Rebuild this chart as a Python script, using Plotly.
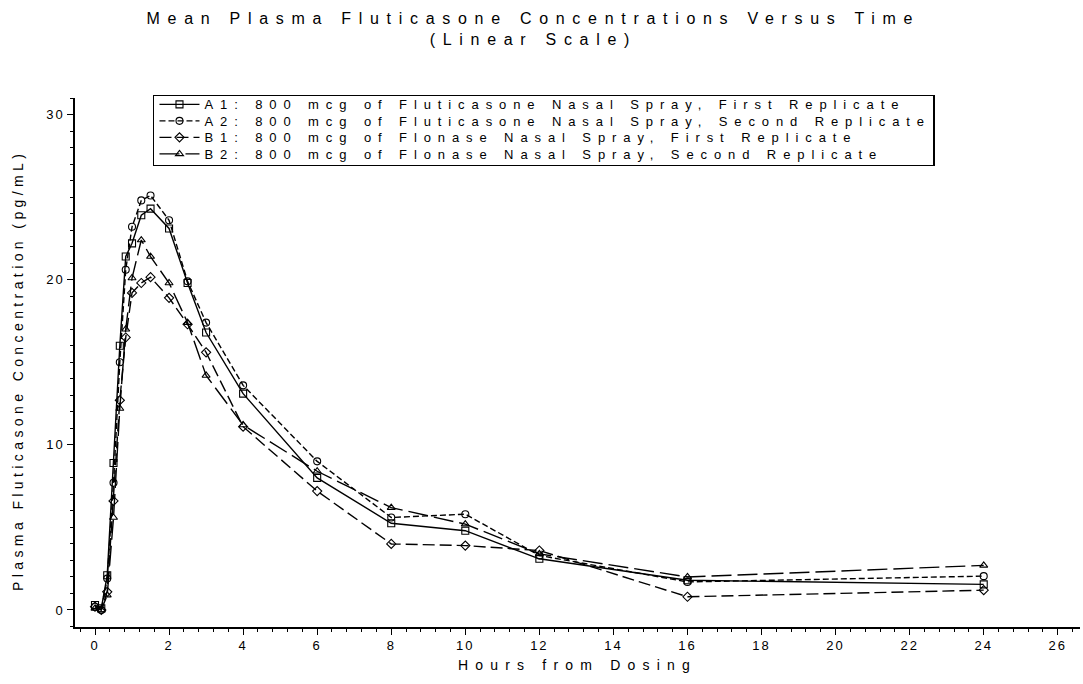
import plotly.graph_objects as go

# ---- data ----
hours = [0, 0.17, 0.33, 0.5, 0.67, 0.83, 1, 1.25, 1.5, 2, 2.5, 3, 4, 6, 8, 10, 12, 16, 24]
a1 = [0.3, 0.1, 2.1, 8.9, 16.0, 21.4, 22.2, 23.9, 24.3, 23.1, 19.8, 16.8, 13.1, 8.0, 5.25, 4.8, 3.1, 1.8, 1.55]
a2 = [0.2, 0.0, 1.9, 7.7, 15.0, 20.6, 23.2, 24.8, 25.1, 23.6, 19.9, 17.4, 13.6, 9.0, 5.6, 5.8, 3.3, 1.7, 2.05]
b1 = [0.2, 0.0, 1.1, 6.6, 12.7, 16.5, 19.2, 19.8, 20.15, 18.9, 17.3, 15.6, 11.1, 7.2, 4.0, 3.9, 3.6, 0.8, 1.2]
b2 = [0.1, 0.0, 0.9, 5.6, 12.2, 17.0, 20.1, 22.4, 21.4, 19.8, 17.4, 14.2, 11.2, 8.4, 6.2, 5.2, 3.4, 2.0, 2.7]

names = [
    "A1: 800 mcg of Fluticasone Nasal Spray, First Replicate",
    "A2: 800 mcg of Fluticasone Nasal Spray, Second Replicate",
    "B1: 800 mcg of Flonase Nasal Spray, First Replicate",
    "B2: 800 mcg of Flonase Nasal Spray, Second Replicate",
]
series = [a1, a2, b1, b2]
symbols = ["square-open", "circle-open", "diamond-open", "triangle-up-open"]
dashes = ["solid", "6px,3px", "12px,5px", "20px,6px"]
x_ticks = list(range(0, 27, 2))
y_ticks = [0, 10, 20, 30]

FONT = "Liberation Sans, Arial, sans-serif"

fig = go.Figure()
for nm, ys, sym, ds in zip(names, series, symbols, dashes):
    fig.add_trace(go.Scatter(
        x=hours, y=ys, name=nm, mode="lines+markers",
        line=dict(color="black", width=1.4, dash=ds),
        marker=dict(symbol=sym, size=7, color="black", line=dict(color="black", width=1.1)),
    ))

fig.update_layout(
    width=1083, height=684,
    paper_bgcolor="white", plot_bgcolor="white",
    margin=dict(l=75, r=3, t=98, b=57),
    font=dict(family=FONT, color="black", size=13),
    title=dict(
        text="Mean Plasma Fluticasone Concentrations Versus Time<br>(Linear Scale)",
        x=0.4925, xanchor="center", xref="container",
        y=0.965, yanchor="top", yref="container",
        font=dict(size=16, family=FONT, color="black"),
    ),
    showlegend=True,
    legend=dict(
        x=0.0776, y=1.006, xanchor="left", yanchor="top",
        orientation="h", entrywidthmode="fraction", entrywidth=0.77,
        bgcolor="white", bordercolor="black", borderwidth=1.5,
        font=dict(size=13, family=FONT, color="black"),
        itemwidth=40, tracegroupgap=0,
    ),
    annotations=[dict(
        text="Plasma Fluticasone Concentration (pg/mL)",
        xref="paper", yref="paper", x=-0.0567, y=0.484,
        xanchor="center", yanchor="middle", textangle=-90, showarrow=False,
        font=dict(size=14, family=FONT, color="black"),
    )],
)

fig.update_xaxes(
    range=[-0.54, 26.6], tickmode="array", tickvals=x_ticks,
    ticktext=[str(v) for v in x_ticks],
    showline=True, linecolor="black", linewidth=1.5,
    ticks="outside", ticklen=6, tickwidth=1.3, tickcolor="black",
    showgrid=False, zeroline=False, automargin=False,
    minor=dict(dtick=0.4, tick0=0, ticks="outside", ticklen=3, tickwidth=1, tickcolor="black", showgrid=False),
    tickfont=dict(size=13, family=FONT),
    title=dict(text="Hours from Dosing", font=dict(size=14, family=FONT), standoff=8),
)
fig.update_yaxes(
    range=[-1.03, 31], tickmode="array", tickvals=y_ticks,
    ticktext=[str(v) for v in y_ticks],
    showline=True, linecolor="black", linewidth=1.5,
    ticks="outside", ticklen=6, tickwidth=1.3, tickcolor="black",
    showgrid=False, zeroline=False, automargin=False,
    minor=dict(dtick=1, tick0=0, ticks="outside", ticklen=3, tickwidth=1, tickcolor="black", showgrid=False),
    tickfont=dict(size=13, family=FONT),
)

post = """
document.body.style.margin = '0';
var gd = document.querySelector('.plotly-graph-div');
function sp(sel, px){ gd.querySelectorAll(sel).forEach(function(e){ e.style.letterSpacing = px; }); }
sp('.gtitle', '7.7px');
sp('.legendtext', '6.9px');
sp('.xtitle', '7.2px');
sp('.annotation-text', '4.4px');
sp('.xtick text', '2px');
sp('.ytick text', '2px');
var sb = gd.querySelector('.legend .scrollbox');
if (sb) { sb.removeAttribute('clip-path'); }
var tr = gd.querySelectorAll('.legend .traces');
var y0 = 9.5, pitch = 16.5;
tr.forEach(function(t, i){
  var m = /translate\\(\\s*([-\\d.e]+)[ ,]+([-\\d.e]+)\\s*\\)/.exec(t.getAttribute('transform') || '');
  if(!m) return;
  t.setAttribute('transform', 'translate(' + parseFloat(m[1]) + ',' + (y0 + i * pitch) + ')');
});
var bg = gd.querySelector('.legend .bg');
if (bg && tr.length) { bg.setAttribute('height', y0 + (tr.length - 1) * pitch + 11); }
"""

fig.write_html("out.html", post_script=post, config={"displayModeBar": False})
